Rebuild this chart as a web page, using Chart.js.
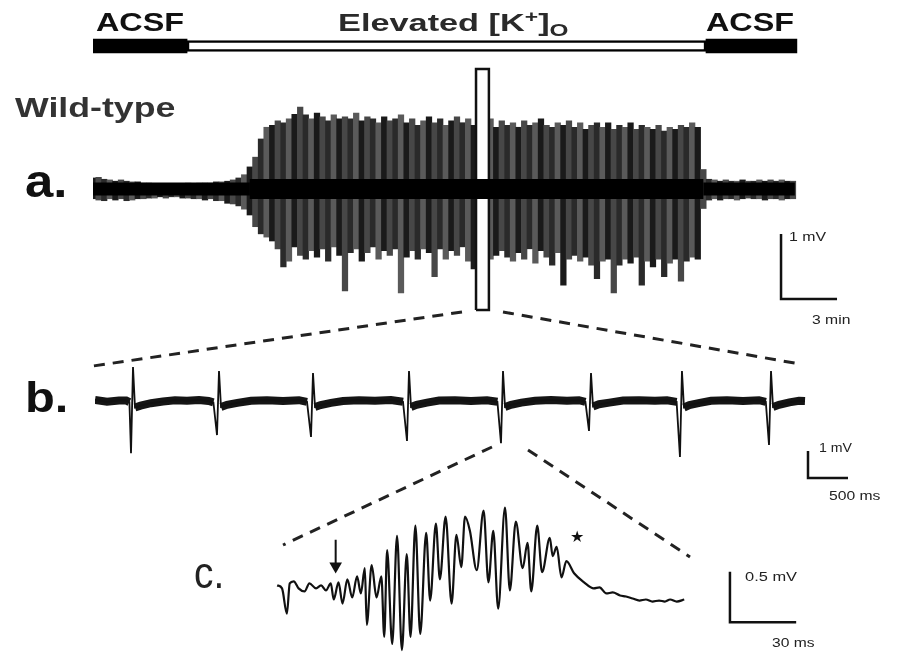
<!DOCTYPE html>
<html><head><meta charset="utf-8">
<script src="https://cdn.jsdelivr.net/npm/chart.js@4.4.1/dist/chart.umd.min.js"></script>
<style>
html,body{margin:0;padding:0;background:#fff;}
#fig{position:relative;width:899px;height:660px;overflow:hidden;background:#fff;font-family:"Liberation Sans",Arial,sans-serif;}
canvas{position:absolute;}
.t{position:absolute;white-space:nowrap;line-height:1;transform-origin:0 0;color:#111;}
.b{font-weight:bold;}
.s{font-size:12px;color:#222;}
</style></head><body>
<div id="fig">
<canvas id="cBar" width="750" height="30" style="left:93px;top:31px"></canvas>
<canvas id="cA" width="750" height="256" style="left:93px;top:60px"></canvas>
<canvas id="cB" width="765" height="130" style="left:95px;top:360px"></canvas>
<canvas id="cC" width="560" height="180" style="left:265px;top:480px"></canvas>
<svg width="899" height="660" style="position:absolute;left:0;top:0">
<g stroke="#222" stroke-width="3" stroke-dasharray="11 8" fill="none">
<line x1="462" y1="312" x2="93" y2="366"/>
<line x1="503" y1="312" x2="800" y2="364"/>
<line x1="492" y1="447" x2="283" y2="545"/>
<line x1="528" y1="450" x2="690" y2="557"/>
</g></svg>
<div class="t b" data-w="88" style="left:96px;top:10px;font-size:25px">ACSF</div>
<div class="t b" data-w="230" style="left:338px;top:11px;font-size:24px;color:#2a2a2a">Elevated [K<span style="font-size:16px;position:relative;top:-9px">+</span>]<span style="font-size:17px;position:relative;top:5px">O</span></div>
<div class="t b" data-w="88" style="left:706px;top:10px;font-size:25px">ACSF</div>
<div class="t b" data-w="160" style="left:15px;top:95px;font-size:27px;color:#333">Wild-type</div>
<div class="t b" data-w="42" style="left:25px;top:158px;font-size:46px">a.</div>
<div class="t b" data-w="43" style="left:25px;top:377px;font-size:42px">b.</div>
<div class="t" data-w="30" style="left:194px;top:551px;font-size:44px;color:#222">c.</div>
<div class="t s" data-w="37" style="left:789px;top:231px">1 mV</div>
<div class="t s" data-w="38" style="left:812px;top:314px">3 min</div>
<div class="t s" data-w="33" style="left:819px;top:442px">1 mV</div>
<div class="t s" data-w="51" style="left:829px;top:490px">500 ms</div>
<div class="t s" data-w="52" style="left:745px;top:571px">0.5 mV</div>
<div class="t s" data-w="43" style="left:772px;top:637px">30 ms</div>
<div class="t" style="left:570px;top:529px;font-size:16px;font-family:'DejaVu Sans'">★</div>
</div>
<script>
// ---------- condition bar (minutes) ----------
const condNames = ['ACSF', 'Elevated [K+]o', 'ACSF'];
const condStart = [0, 5.04, 32.84];
const condEnd   = [5.04, 32.84, 37.71];

// ---------- trace a: envelope per time bin (minutes, mV) ----------
const aT = [0,0.3,0.6,0.9,1.2,1.5,1.8,2.1,2.4,2.7,3,3.3,3.6,3.9,4.2,4.5,4.8,5.1,5.4,5.7,6,6.3,6.6,6.9,7.2,7.5,7.8,8.1,8.4,8.7,9,9.3,9.6,9.9,10.2,10.5,10.8,11.1,11.4,11.7,12,12.3,12.6,12.9,13.2,13.5,13.8,14.1,14.4,14.7,15,15.3,15.6,15.9,16.2,16.5,16.8,17.1,17.4,17.7,18,18.3,18.6,18.9,19.2,19.5,19.8,20.1,20.4,20.7,21,21.3,21.6,21.9,22.2,22.5,22.8,23.1,23.4,23.7,24,24.3,24.6,24.9,25.2,25.5,25.8,26.1,26.4,26.7,27,27.3,27.6,27.9,28.2,28.5,28.8,29.1,29.4,29.7,30,30.3,30.6,30.9,31.2,31.5,31.8,32.1,32.4,32.7,33,33.3,33.6,33.9,34.2,34.5,34.8,35.1,35.4,35.7,36,36.3,36.6,36.9,37.2,37.5];
const aMax = [0.17,0.18,0.15,0.14,0.12,0.14,0.12,0.11,0.11,0.09,
 0.09,0.08,0.08,0.08,0.08,0.08,0.08,0.09,0.08,0.09,
 0.09,0.09,0.11,0.11,0.12,0.14,0.17,0.22,0.34,0.49,
 0.77,0.95,0.98,1.05,1.02,1.08,1.15,1.26,1.14,1.08,
 1.17,1.11,1.05,1.14,1.08,1.11,1.08,1.17,1.05,1.11,
 1.08,1.02,1.11,1.05,1.08,1.14,1.02,1.08,0.98,1.05,
 1.11,1.02,1.08,0.98,1.05,1.11,1.02,1.08,0.98,1.05,
 1.02,1.08,0.95,1.05,0.98,1.02,0.95,1.05,0.98,1.02,
 1.08,0.98,0.95,1.02,0.98,1.05,0.95,1.02,0.92,0.98,
 1.02,0.95,1.02,0.92,0.98,0.95,1.02,0.92,0.98,0.95,
 0.92,0.98,0.89,0.95,0.92,0.98,0.95,1.02,0.95,0.3,
 0.15,0.14,0.12,0.14,0.12,0.12,0.14,0.12,0.12,0.14,
 0.12,0.14,0.12,0.14,0.12,0.12];
const aMin = [-0.15,-0.17,-0.18,-0.15,-0.17,-0.15,-0.18,-0.17,-0.15,-0.15,
 -0.14,-0.14,-0.12,-0.14,-0.12,-0.12,-0.14,-0.14,-0.15,-0.15,
 -0.17,-0.15,-0.18,-0.18,-0.22,-0.23,-0.26,-0.31,-0.40,-0.58,
 -0.69,-0.74,-0.80,-0.92,-1.20,-1.11,-0.89,-1.02,-1.08,-0.95,
 -1.05,-0.92,-1.11,-0.89,-1.02,-1.57,-0.98,-0.92,-1.11,-0.98,
 -0.89,-1.08,-0.95,-1.02,-0.92,-1.60,-1.05,-0.95,-1.08,-0.92,
 -0.98,-1.35,-0.92,-1.08,-0.95,-1.02,-0.89,-1.11,-1.23,-1.14,
 -1.38,-1.08,-1.02,-0.95,-1.05,-1.11,-0.98,-1.08,-0.92,-1.14,
 -0.95,-1.05,-1.17,-0.98,-1.48,-1.08,-1.02,-1.11,-1.05,-1.17,
 -1.38,-1.11,-1.08,-1.60,-1.17,-1.08,-1.14,-1.05,-1.48,-1.11,
 -1.20,-1.08,-1.35,-1.14,-1.08,-1.42,-1.11,-1.05,-1.08,-0.3,
 -0.17,-0.15,-0.17,-0.15,-0.15,-0.17,-0.15,-0.14,-0.15,-0.15,
 -0.17,-0.15,-0.15,-0.17,-0.15,-0.15];
const burstOn = 8.4, burstOff = 32.7, aEnd = 37.6;
const zoomWin = {t0: 20.52, t1: 21.21, top: 1.846, bottom: -1.862};
const scaleA = {t: 36.86, v: -1.692, dt: 3, dv: 1};   // 3 min, 1 mV

// ---------- trace b (ms, mV) ----------
const bT = [0,150,300,390,430,450,475,500,570,700,850,1000,1150,1300,1420,1480,1525,1550,1575,1650,1780,1950,2150,2350,2550,2650,2700,2725,2750,2820,2950,3100,3300,3500,3700,3850,3900,3925,3950,4020,4150,4300,4500,4700,4900,5030,5075,5100,5125,5200,5330,5500,5700,5900,6050,6130,6175,6200,6225,6300,6430,6600,6800,7000,7150,7270,7312,7337,7362,7430,7560,7700,7900,8100,8300,8385,8425,8450,8475,8550,8680,8800,8875];
const bV = [0.04,-0.03,0.02,0.02,-0.04,-1.93,1.26,-0.24,-0.17,-0.08,-0.02,0.03,0.01,0.04,0,-0.05,-1.26,1.11,-0.22,-0.14,-0.07,0.01,0.03,0,0.03,-0.03,-1.33,1.04,-0.22,-0.15,-0.07,0,0.03,0.01,0.04,-0.03,-1.48,1.11,-0.22,-0.14,-0.06,0.02,0.03,0,0.03,-0.03,-1.56,1.11,-0.22,-0.14,-0.06,0.01,0.04,0.01,0.03,-0.03,-1.11,1.04,-0.2,-0.12,-0.06,0.02,0.03,0.01,0.03,-0.03,-2.07,1.11,-0.24,-0.15,-0.07,0.01,0.03,0,0.03,-0.03,-1.63,1.11,-0.22,-0.14,-0.05,0.01,0];
const scaleB = {t: 8912.5, v: -2.852, dt: 500, dv: 1};  // 500 ms, 1 mV

// ---------- trace c (ms, mV) ----------
const cT = [0,2.2,4.4,5.7,7.5,9.7,12.4,14.6,17.6,19.9,22.1,24.3,25.6,27.8,29.6,31.8,34.0,36.2,37.9,39.7,40.6,42.8,45.0,47.2,48.5,49.8,52.1,54.3,56.5,58.7,60.4,62.6,64.8,67.5,69.3,71.9,73.7,76.3,79.0,81.2,83.4,85.1,87.3,90.4,93.5,95.7,97.9,100.1,103.2,105.4,108.1,111.2,113.4,115.1,117.8,120.0,123.5,124.8,126.6,128.8,131.0,134.5,139.0,143.4,146,149.1,152,155.3,158,161,164.1,167,170,173,175.6,178,181,184.4];
const cV = [0.03,0,-0.25,0.05,0.07,0,-0.03,0.05,0,0.03,-0.02,0.05,-0.11,0.06,-0.15,0.09,-0.09,0.12,-0.05,0.2,-0.36,0.23,-0.09,0.12,-0.48,0.38,-0.55,0.52,-0.61,0.34,-0.48,0.62,-0.45,0.55,-0.12,0.64,0.09,0.71,-0.15,0.53,0.21,0.71,0.57,0.18,0.77,0.06,0.57,-0.2,0.8,-0.02,0.66,0.2,0.45,-0.03,0.62,0.16,0.5,0.32,0.41,0.11,0.27,0.15,0.06,0,0.01,-0.05,-0.04,-0.07,-0.08,-0.1,-0.12,-0.11,-0.13,-0.12,-0.13,-0.11,-0.13,-0.11];
const arrowC = {t: 26.5, from: 0.48, to: 0.25, head: 0.22};
const scaleC = {t: 205.1, v: -0.336, dt: 30, dv: 0.5};  // 30 ms, 0.5 mV

// ---------- helpers ----------
function opts(xmin, xmax, ymin, ymax, extra) {
  return Object.assign({
    responsive: false, animation: false, devicePixelRatio: 1,
    layout: {padding: 0},
    plugins: {legend: {display: false}, tooltip: {enabled: false}},
    scales: {
      x: {type: 'linear', min: xmin, max: xmax, display: false, offset: false},
      y: {type: 'linear', min: ymin, max: ymax, display: false}
    }
  }, extra || {});
}
function scaleBar(s) {
  return {type: 'line', data: [{x: s.t, y: s.v + s.dv}, {x: s.t, y: s.v}, {x: s.t + s.dt, y: s.v}],
    borderColor: '#111', borderWidth: 2.5, pointRadius: 0, tension: 0, clip: false, order: 0,
    borderJoinStyle: 'miter', borderCapStyle: 'butt'};
}
const xy = (T, V) => T.map((t, i) => ({x: t, y: V[i]}));

// ---------- condition bar ----------
new Chart(document.getElementById('cBar'), {
  type: 'bar',
  data: {labels: ['cond'], datasets: [
    {data: [0, 2].map(i => ({x: [condStart[i], condEnd[i]], y: 'cond'})), backgroundColor: '#000',
     barThickness: 14, grouped: false, borderSkipped: false, order: 1},
    {data: [1].map(i => ({x: [condStart[i], condEnd[i]], y: 'cond'})), backgroundColor: '#fff',
     borderColor: '#000', borderWidth: 2.5, barThickness: 11, grouped: false, borderSkipped: false, order: 2}
  ]},
  options: (function(){ const o = opts(0, 40.18, 0, 1, {indexAxis: 'y'});
    o.scales.y = {type: 'category', display: false}; return o; })()
});

// ---------- panel a ----------
const streak = ['#1a1a1a', '#474747', '#2a2a2a', '#5a5a5a'];
new Chart(document.getElementById('cA'), {
  type: 'bar',
  data: {datasets: [
    {type: 'bar', data: aT.map((t, i) => ({x: t, y: [aMin[i], aMax[i]]})),
     backgroundColor: ctx => streak[ctx.dataIndex % streak.length],
     barPercentage: 1, categoryPercentage: 1, order: 4},
    {type: 'line', data: [{x: zoomWin.t0, y: zoomWin.bottom}, {x: zoomWin.t0, y: zoomWin.top},
      {x: zoomWin.t1, y: zoomWin.top}, {x: zoomWin.t1, y: zoomWin.bottom}, {x: zoomWin.t0, y: zoomWin.bottom}],
     borderColor: '#111', borderWidth: 2.5, backgroundColor: '#fff', fill: 'shape', pointRadius: 0,
     tension: 0, clip: false, order: 2, borderJoinStyle: 'miter'},
    {type: 'line', data: [{x: 0, y: 0}, {x: burstOn, y: 0}, {x: burstOff, y: 0}, {x: aEnd, y: 0}],
     borderColor: '#000', borderWidth: 13, pointRadius: 0, tension: 0, order: 1, clip: false,
     segment: {borderWidth: ctx => ctx.p0DataIndex === 1 ? 20 : 13}},
    scaleBar(scaleA)
  ]},
  options: opts(0, 40.18, -1.954, 1.985)
});

// ---------- panel b ----------
new Chart(document.getElementById('cB'), {
  type: 'line',
  data: {datasets: [
    {data: xy(bT, bV), borderColor: '#111', borderWidth: 1.8, pointRadius: 0, tension: 0, clip: false, order: 1},
    {data: xy(bT, bV), borderColor: '#151515', borderWidth: 8, pointRadius: 0, tension: 0, clip: false, order: 2,
     segment: {borderColor: ctx => (Math.abs(ctx.p0.parsed.y) > 0.4 || Math.abs(ctx.p1.parsed.y) > 0.4) ? 'rgba(0,0,0,0)' : '#151515'}},
    scaleBar(scaleB)
  ]},
  options: opts(0, 9562.5, -3.296, 1.519)
});

// ---------- panel c ----------
new Chart(document.getElementById('cC'), {
  type: 'line',
  data: {datasets: [
    {data: xy(cT, cV), borderColor: '#111', borderWidth: 2.2, pointRadius: 0, cubicInterpolationMode: 'monotone', clip: false, order: 1},
    {data: [{x: arrowC.t, y: arrowC.from}, {x: arrowC.t, y: arrowC.to}], borderColor: '#111', borderWidth: 2,
     pointRadius: 0, tension: 0, clip: false, order: 1},
    {data: [{x: arrowC.t, y: arrowC.head}], showLine: false, pointStyle: 'triangle', rotation: 180,
     pointRadius: 7.3, pointBackgroundColor: '#111', pointBorderWidth: 0, clip: false, order: 0},
    scaleBar(scaleC)
  ]},
  options: opts(-2.206, 244.85, -0.636, 1.0)
});

// ---------- fit label widths ----------
document.querySelectorAll('.t[data-w]').forEach(el => {
  const w = parseFloat(el.dataset.w);
  const nat = el.offsetWidth;
  if (nat > 0) el.style.transform = 'scaleX(' + (w / nat).toFixed(3) + ')';
});
</script>
</body></html>
